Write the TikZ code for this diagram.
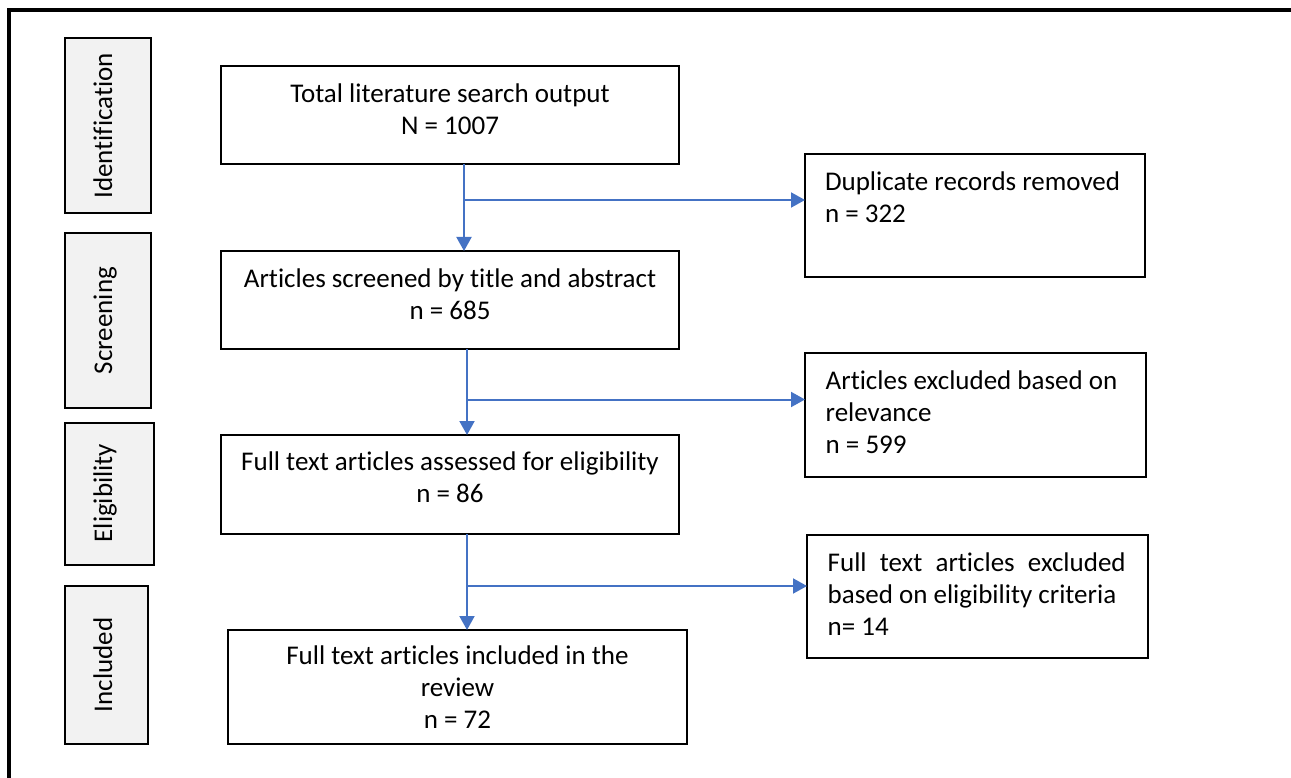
\documentclass[tikz,border=0pt]{standalone}
\usepackage{fontspec}
\setmainfont{Carlito}[Ligatures={NoCommon}]
\usetikzlibrary{arrows.meta,calc}
\definecolor{arrowblue}{HTML}{4472C4}
\definecolor{phasegray}{HTML}{F2F2F2}
\begin{document}
\begin{tikzpicture}[x=1pt,y=-1pt,
 box/.style={draw=black,line width=2pt,fill=white,inner sep=0pt,outer sep=0pt,anchor=north west},
 phasebox/.style={draw=black,line width=2pt,fill=phasegray,inner sep=0pt,outer sep=0pt,anchor=north west},
 txt/.style={inner sep=0pt,outer sep=0pt,font=\fontsize{27}{32}\selectfont},
 phasetxt/.style={txt,rotate=90,anchor=base},
 arr/.style={draw=arrowblue,line width=2pt,-{Triangle[length=14pt,width=15pt]}}]
\useasboundingbox (0,0) rectangle (1291,778);
\draw[line width=4pt] (9,780) -- (9,10) -- (1293,10);

% phase boxes
\node[phasebox,minimum width=86pt,minimum height=175pt] (pid) at (65,38) {};
\node[phasebox,minimum width=86pt,minimum height=175pt] (pscr) at (65,233) {};
\node[phasebox,minimum width=89pt,minimum height=142pt] (pelig) at (65,423) {};
\node[phasebox,minimum width=83pt,minimum height=158pt] (pinc) at (65,586) {};
\node[phasetxt] (tpid) at (112,126) {Identification};
\node[phasetxt] (tpscr) at (112,320.5) {Screening};
\node[phasetxt] (tpelig) at (112,493) {Eligibility};
\node[phasetxt] (tpinc) at (112,665) {Included};

% main boxes
\node[box,minimum width=458pt,minimum height=98pt] (total) at (221,66) {};
\node[box,minimum width=458pt,minimum height=98pt] (screen) at (221,251) {};
\node[box,minimum width=458pt,minimum height=99pt] (assess) at (221,435) {};
\node[box,minimum width=459pt,minimum height=114pt] (incl) at (228,630) {};
\node[txt,align=center,anchor=north] (ttotal) at (450,83.5) {Total literature search output\\N = 1007};
\node[txt,align=center,anchor=north] (tscreen) at (450,268.5) {Articles screened by title and abstract\\n = 685};
\node[txt,align=center,anchor=north] (tassess) at (450,451.5) {Full text articles assessed for eligibility\\n = 86};
\node[txt,align=center,anchor=north] (tincl) at (457.5,646) {Full text articles included in the\\review\\n = 72};

% side boxes
\node[box,minimum width=340pt,minimum height=123pt] (dup) at (805,154) {};
\node[box,minimum width=341pt,minimum height=124pt] (rel) at (805,353) {};
\node[box,minimum width=341pt,minimum height=123pt] (elig) at (807,535) {};
\node[txt,align=left,anchor=north west] (tdup) at (825,171.5) {Duplicate records removed\\n = 322};
\node[txt,align=left,anchor=north west] (trel) at (825.7,371) {Articles excluded based on\\relevance\\n = 599};
\node[txt,align=left,anchor=north west] (telig) at (827.7,552.5) {\hbox to 298pt{Full\hfill text\hfill articles\hfill excluded}\\based on eligibility criteria\\n= 14};

% connectors
\coordinate (v1) at (464,0);
\coordinate (v2) at (467,0);
\coordinate (b1) at (464,200);
\coordinate (b2) at (467,399.5);
\coordinate (b3) at (467,586);
\draw[arr] (total.south -| v1) -- (screen.north -| v1);
\draw[arr] (b1) -- (b1 -| dup.west);
\draw[arr] (screen.south -| v2) -- (assess.north -| v2);
\draw[arr] (b2) -- (b2 -| rel.west);
\draw[arr] (assess.south -| v2) -- (incl.north -| v2);
\draw[arr] (b3) -- (b3 -| elig.west);
\end{tikzpicture}
\end{document}
